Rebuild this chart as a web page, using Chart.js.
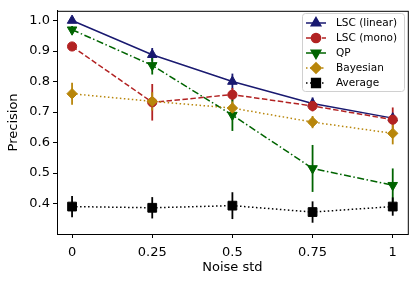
<!DOCTYPE html>
<html>
<head>
<meta charset="utf-8">
<script src="https://cdn.jsdelivr.net/npm/chart.js@4.4.0/dist/chart.umd.min.js"></script>
<style>
  html, body { margin: 0; padding: 0; background: #fff; }
  #wrap { width: 415px; height: 283px; }
</style>
</head>
<body>
<div id="wrap"><canvas id="myChart" width="415" height="283"></canvas></div>
<script>
const noise = [0, 0.25, 0.5, 0.75, 1];
const noiseLabels = ['0', '0.25', '0.5', '0.75', '1'];
const yTicks = [0.4, 0.5, 0.6, 0.7, 0.8, 0.9, 1.0];

const lscLinear = [1.0, 0.888, 0.800, 0.728, 0.680];
const lscLinearErr = [0.008, 0.022, 0.026, 0.02, 0.012];
const lscMono = [0.915, 0.732, 0.757, 0.720, 0.675];
const lscMonoErr = [0.012, 0.06, 0.022, 0.018, 0.04];
const qp = [0.970, 0.853, 0.690, 0.515, 0.460];
const qpErr = [0.012, 0.03, 0.052, 0.077, 0.055];
const bayes = [0.760, 0.735, 0.713, 0.667, 0.630];
const bayesErr = [0.036, 0.03, 0.022, 0.02, 0.036];
const average = [0.390, 0.386, 0.393, 0.372, 0.390];
const averageErr = [0.035, 0.035, 0.044, 0.035, 0.03];

const series = [
  { label: 'LSC (linear)', y: lscLinear, err: lscLinearErr, color: '#191970', dash: [], style: 'triangle', rot: 0, r: 5.5 },
  { label: 'LSC (mono)', y: lscMono, err: lscMonoErr, color: '#b22222', dash: [5.5, 2.5], style: 'circle', rot: 0, r: 4.6 },
  { label: 'QP', y: qp, err: qpErr, color: '#006400', dash: [7, 2.5, 1.5, 2.5], style: 'triangle', rot: 180, r: 5.5 },
  { label: 'Bayesian', y: bayes, err: bayesErr, color: '#b8860b', dash: [1.5, 2.5], style: 'rectRot', rot: 0, r: 5.2 },
  { label: 'Average', y: average, err: averageErr, color: '#000000', dash: [1.5, 2.5], style: 'rect', rot: 0, r: 6.2 }
];

const datasets = series.map((s, i) => ({
  label: s.label,
  data: noise.map((x, j) => ({ x: x, y: s.y[j] })),
  borderColor: s.color,
  backgroundColor: s.color,
  pointBackgroundColor: s.color,
  pointBorderColor: s.color,
  borderWidth: 1.5,
  borderDash: s.dash,
  pointStyle: s.style,
  pointRotation: s.rot,
  pointRadius: s.r,
  pointBorderWidth: 1,
  tension: 0,
  fill: false,
  order: series.length - i
}));

const errorBars = {
  id: 'errorBars',
  beforeDatasetsDraw(chart) {
    const ctx = chart.ctx;
    const xs = chart.scales.x, ys = chart.scales.y;
    ctx.save();
    series.forEach(s => {
      ctx.strokeStyle = s.color;
      ctx.lineWidth = 1.8;
      noise.forEach((x, j) => {
        const px = xs.getPixelForValue(x);
        ctx.beginPath();
        ctx.moveTo(px, ys.getPixelForValue(s.y[j] - s.err[j]));
        ctx.lineTo(px, ys.getPixelForValue(s.y[j] + s.err[j]));
        ctx.stroke();
      });
    });
    ctx.restore();
  }
};

const frameAndLegend = {
  id: 'frameAndLegend',
  afterDraw(chart) {
    const ctx = chart.ctx;
    const a = chart.chartArea;
    ctx.save();
    ctx.strokeStyle = '#000';
    ctx.lineWidth = 1;
    ctx.strokeRect(a.left + 0.5, a.top + 0.5, a.right - a.left, a.bottom - a.top);

    // legend box
    const bx = 302, by = 13, bw = 102, bh = 78;
    ctx.fillStyle = 'rgba(255,255,255,0.85)';
    ctx.strokeStyle = '#d0d0d0';
    ctx.beginPath();
    ctx.roundRect(bx + 0.5, by + 0.5, bw, bh, 3);
    ctx.fill();
    ctx.stroke();

    ctx.font = '10.5px "DejaVu Sans"';
    ctx.textBaseline = 'middle';
    series.forEach((s, i) => {
      const yy = by + 10 + i * 15;
      ctx.strokeStyle = s.color;
      ctx.lineWidth = 1.5;
      ctx.setLineDash(s.dash);
      ctx.beginPath();
      ctx.moveTo(bx + 4, yy);
      ctx.lineTo(bx + 24, yy);
      ctx.stroke();
      ctx.setLineDash([]);
      ctx.fillStyle = s.color;
      Chart.helpers.drawPoint(ctx, {
        pointStyle: s.style,
        rotation: s.rot,
        radius: s.r,
        borderWidth: 1
      }, bx + 14, yy);
      ctx.fillStyle = '#000';
      ctx.fillText(s.label, bx + 34, yy + 0.5);
    });
    ctx.restore();
  }
};

const ctx = document.getElementById('myChart').getContext('2d');
const myChart = new Chart(ctx, {
  type: 'line',
  data: { datasets: datasets },
  plugins: [errorBars, frameAndLegend],
  options: {
    responsive: false,
    animation: false,
    layout: { padding: { top: 7, right: 7, left: 6, bottom: 8 } },
    plugins: { legend: { display: false }, tooltip: { enabled: false } },
    scales: {
      x: {
        type: 'linear',
        min: -0.047,
        max: 1.047,
        afterBuildTicks: axis => { axis.ticks = noise.map(v => ({ value: v })); },
        afterFit: axis => { axis.height = 41; },
        ticks: {
          color: '#000',
          font: { family: 'DejaVu Sans', size: 13 },
          padding: 7,
          maxRotation: 0,
          callback: (v) => noiseLabels[noise.indexOf(v)]
        },
        grid: { drawOnChartArea: false, drawTicks: true, tickLength: 4, color: '#000' },
        border: { display: true, color: '#000' },
        title: { display: true, text: 'Noise std', color: '#000', font: { family: 'DejaVu Sans', size: 13 }, padding: { top: 1, bottom: 0 } }
      },
      y: {
        type: 'linear',
        min: 0.30,
        max: 1.032,
        afterBuildTicks: axis => { axis.ticks = yTicks.map(v => ({ value: v })); },
        afterFit: axis => { axis.width = 51; },
        ticks: {
          color: '#000',
          font: { family: 'DejaVu Sans', size: 13 },
          padding: 3,
          callback: v => v.toFixed(1)
        },
        grid: { drawOnChartArea: false, drawTicks: true, tickLength: 4, color: '#000' },
        border: { display: true, color: '#000' },
        title: { display: true, text: 'Precision', color: '#000', font: { family: 'DejaVu Sans', size: 13 }, padding: { top: 0, bottom: 2 } }
      }
    }
  }
});
</script>
</body>
</html>
